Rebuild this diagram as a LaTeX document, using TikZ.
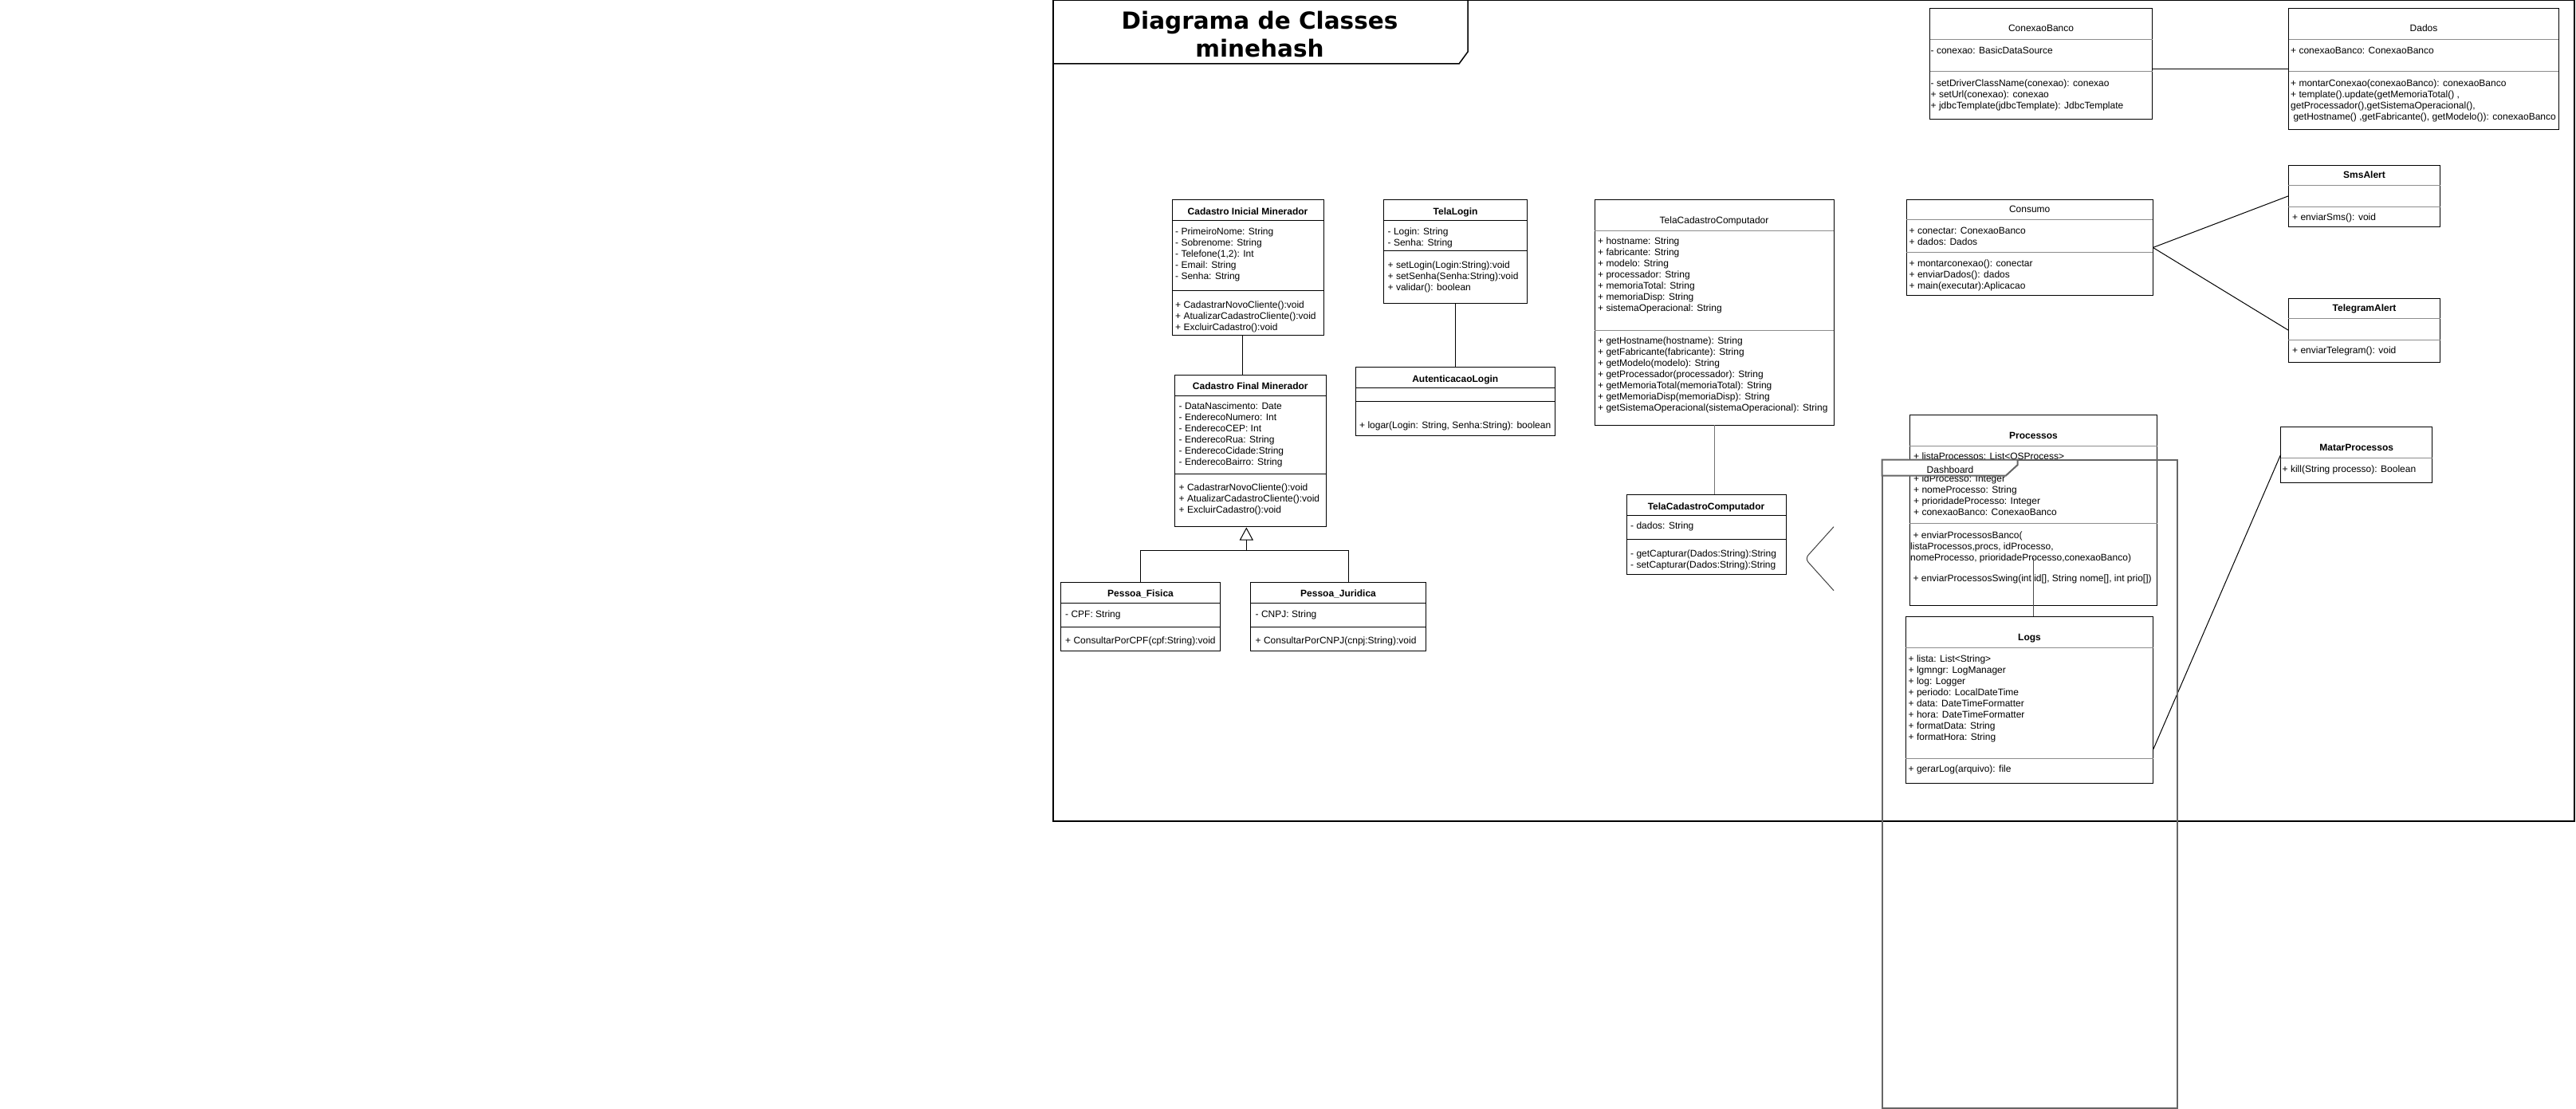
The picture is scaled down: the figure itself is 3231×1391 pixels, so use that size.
\documentclass[tikz,border=0pt]{standalone}
\usepackage{fontspec}
\setmainfont{Liberation Sans}
\newfontfamily\titlefont{DejaVu Sans}
\usetikzlibrary{arrows.meta,calc,positioning}
\tikzset{
	cls/.style={draw,fill=white,line width=1pt,inner sep=0pt,outer sep=0pt,anchor=north west},
	sepk/.style={line width=1pt,color=black},
	sepg/.style={line width=1pt,color=black!45},
	cname/.style={anchor=base,inner sep=0pt,font=\bfseries\fontsize{12}{14}\selectfont},
	cnamer/.style={anchor=base,inner sep=0pt,font=\fontsize{12}{14}\selectfont},
	rowtxt/.style={anchor=base west,inner sep=0pt,font=\fontsize{12}{14}\selectfont},
	ftitle/.style={anchor=base,inner sep=0pt,font=\titlefont\bfseries\fontsize{29.5}{35}\selectfont},
	outframe/.style={line width=1.5pt,color=black},
	dashframe/.style={line width=2pt,color=black!60},
	assoc/.style={line width=1pt,color=black},
	grayassoc/.style={line width=1pt,color=black!55},
	genedge/.style={line width=1pt,color=black,-{Triangle[open,length=16pt,width=17pt]}}
}
% class box: name, left, top, right, bottom, first separator, second separator, separator style
\newcommand{\classbox}[8]{%
	\node[cls,minimum width={#4-#2},minimum height={#5-#3}] (#1) at (#2,#3) {};
	\draw[#8] (#2,#6) -- (#4,#6);
	\draw[#8] (#2,#7) -- (#4,#7);
}
\begin{document}
\begin{tikzpicture}[x=1pt,y=-1pt]
		\useasboundingbox (0,0) rectangle (3231,1391);
		%%%frame
		\draw[outframe] (1321,0.75) rectangle (3229,1030);
		\draw[outframe] (1321,80) -- (1830,80) -- (1841,65) -- (1841,0.75);
		\node[ftitle] (ft1) at (1580,37) {Diagrama de Classes};
		\node[ftitle] (ft2) at (1580,71.5) {minehash};
		%%%Cadastro Inicial
		\classbox{cim}{1470}{250}{1660}{420}{276}{364}{sepk}
		\node[cname] (cimN) at (1565,269.3) {Cadastro Inicial Minerador};
		\foreach \rowtext [count=\k from 0] in {- PrimeiroNome: String,- Sobrenome: String,{- Telefone(1,2): Int},- Email: String,- Senha: String}
			\node[rowtxt] (cimA\k) at (1474,{294+14*\k}) {\rowtext};
		\foreach \rowtext [count=\k from 0] in {+ CadastrarNovoCliente():void,+ AtualizarCadastroCliente():void,+ ExcluirCadastro():void}
			\node[rowtxt] (cimM\k) at (1474,{386+14*\k}) {\rowtext};
		%%%Cadastro Final
		\classbox{cfm}{1473.3}{470.7}{1663.3}{660}{496.7}{594}{sepk}
		\node[cname] (cfmN) at (1568.3,488.6) {Cadastro Final Minerador};
		\foreach \rowtext [count=\k from 0] in {- DataNascimento: Date,- EnderecoNumero: Int,- EnderecoCEP: Int,- EnderecoRua: String,- EnderecoCidade:String,- EnderecoBairro: String}
			\node[rowtxt] (cfmA\k) at (1478.5,{513.7+14*\k}) {\rowtext};
		\foreach \rowtext [count=\k from 0] in {+ CadastrarNovoCliente():void,+ AtualizarCadastroCliente():void,+ ExcluirCadastro():void}
			\node[rowtxt] (cfmM\k) at (1478.5,{615.7+14*\k}) {\rowtext};
		\coordinate (cimB) at ([xshift=-6.5pt]cim.south);
		\draw[assoc] (cimB) -- (cimB |- cfm.north);
		%%%Pessoas
		\classbox{pf}{1330.7}{730.7}{1530.3}{816.7}{756}{786.7}{sepk}
		\node[cname] (pfN) at (1430.5,748.6) {Pessoa\_Fisica};
		\node[rowtxt] (pfA) at (1336,774) {- CPF: String};
		\node[rowtxt] (pfM) at (1336,807.3) {+ ConsultarPorCPF(cpf:String):void};
		\classbox{pj}{1568.7}{730.7}{1788.3}{816.7}{756}{786.7}{sepk}
		\node[cname] (pjN) at (1678.5,748.6) {Pessoa\_Juridica};
		\node[rowtxt] (pjA) at (1574.5,774) {- CNPJ: String};
		\node[rowtxt] (pjM) at (1574.5,807.3) {+ ConsultarPorCNPJ(cnpj:String):void};
		\coordinate (cfmA) at ([xshift=-5pt,yshift=-1.5pt]cfm.south);
		\coordinate (gj) at (1563.3,690);
		\coordinate (pjT) at ([xshift=12.5pt]pj.north);
		\draw[assoc] (pf.north) |- (pjT |- gj) -- (pjT);
		\draw[genedge] (gj) -- (cfmA);
		%%%Login
		\classbox{tl}{1735.6}{250}{1915.4}{380}{276}{314}{sepk}
		\node[cname] (tlN) at (1825.5,269.3) {TelaLogin};
		\foreach \rowtext [count=\k from 0] in {- Login: String,- Senha: String}
			\node[rowtxt] (tlA\k) at (1740.5,{294+14*\k}) {\rowtext};
		\foreach \rowtext [count=\k from 0] in {+ setLogin(Login:String):void,+ setSenha(Senha:String):void,+ validar(): boolean}
			\node[rowtxt] (tlM\k) at (1740.5,{336+14*\k}) {\rowtext};
		\classbox{al}{1700}{460}{1950.6}{546}{486.5}{503}{sepk}
		\node[cname] (alN) at (1825.3,479) {AutenticacaoLogin};
		\node[rowtxt] (alM) at (1705,537) {+ logar(Login: String, Senha:String): boolean};
		\draw[assoc] (tl.south) -- (tl.south |- al.north);
		%%%Computador
		\classbox{tcc}{2000.4}{250.7}{2300}{533}{289}{414}{sepg}
		\node[cnamer] (tccN) at (2150,280) {TelaCadastroComputador};
		\foreach \rowtext [count=\k from 0] in {+ hostname: String,+ fabricante: String,+ modelo: String,+ processador: String,+ memoriaTotal: String,+ memoriaDisp: String,+ sistemaOperacional: String}
			\node[rowtxt] (tccA\k) at (2004,{306.7+14*\k}) {\rowtext};
		\foreach \rowtext [count=\k from 0] in {+ getHostname(hostname): String,+ getFabricante(fabricante): String,+ getModelo(modelo): String,+ getProcessador(processador): String,+ getMemoriaTotal(memoriaTotal): String,+ getMemoriaDisp(memoriaDisp): String,+ getSistemaOperacional(sistemaOperacional): String}
			\node[rowtxt] (tccM\k) at (2004,{431.7+14*\k}) {\rowtext};
		\classbox{tcs}{2040}{620}{2240}{720}{646.7}{676}{sepk}
		\node[cname] (tcsN) at (2140,639.3) {TelaCadastroComputador};
		\node[rowtxt] (tcsA) at (2045,663.3) {- dados: String};
		\foreach \rowtext [count=\k from 0] in {- getCapturar(Dados:String):String,- setCapturar(Dados:String):String}
			\node[rowtxt] (tcsM\k) at (2045,{698+14*\k}) {\rowtext};
		\draw[grayassoc] (tcc.south) -- (tcc.south |- tcs.north);
		\draw[line width=1pt,color=black!75,rounded corners=6pt] (2300,660.7) -- (2264,700.7) -- (2300,740.7);
		%%%Banco
		\classbox{cnx}{2420.7}{10.7}{2699.8}{150}{50}{90}{sepg}
		\node[cnamer] (cnxN) at (2560,40) {ConexaoBanco};
		\node[rowtxt] (cnxA) at (2421.5,67.3) {- conexao: BasicDataSource};
		\foreach \rowtext [count=\k from 0] in {- setDriverClassName(conexao): conexao,+ setUrl(conexao): conexao,+ jdbcTemplate(jdbcTemplate): JdbcTemplate}
			\node[rowtxt] (cnxM\k) at (2421.5,{108.3+14*\k}) {\rowtext};
		\classbox{dad}{2870.5}{10.7}{3209.3}{162.3}{50}{90}{sepg}
		\node[cnamer] (dadN) at (3040,40) {Dados};
		\node[rowtxt] (dadA) at (2873,67.3) {+ conexaoBanco: ConexaoBanco};
		\foreach \rowtext [count=\k from 0] in {+ montarConexao(conexaoBanco): conexaoBanco,{+ template().update(getMemoriaTotal() ,},{getProcessador(),getSistemaOperacional(),},{\ getHostname() ,getFabricante(), getModelo()): conexaoBanco}}
			\node[rowtxt] (dadM\k) at (2873,{108.3+14*\k}) {\rowtext};
		\draw[assoc] (cnx.east |- dad.west) -- (dad.west);
		%%%Consumo
		\classbox{con}{2391}{250.7}{2700.4}{370.3}{275.3}{316.3}{sepg}
		\node[cnamer] (conN) at (2545.7,266) {Consumo};
		\foreach \rowtext [count=\k from 0] in {+ conectar: ConexaoBanco,+ dados: Dados}
			\node[rowtxt] (conA\k) at (2394.5,{293+14*\k}) {\rowtext};
		\foreach \rowtext [count=\k from 0] in {+ montarconexao(): conectar,+ enviarDados(): dados,+ main(executar):Aplicacao}
			\node[rowtxt] (conM\k) at (2394.5,{334+14*\k}) {\rowtext};
		\classbox{sms}{2870.4}{207.3}{3060.6}{284.3}{232.3}{259.3}{sepg}
		\node[cname] (smsN) at (2965.5,223.3) {SmsAlert};
		\node[rowtxt] (smsM) at (2875,276.7) {+ enviarSms(): void};
		\classbox{tga}{2870.4}{374.3}{3060.6}{454.3}{399.3}{426.3}{sepg}
		\node[cname] (tgaN) at (2965.5,390) {TelegramAlert};
		\node[rowtxt] (tgaM) at (2875,443.7) {+ enviarTelegram(): void};
		\draw[assoc] (con.east) -- (sms.west);
		\draw[assoc] (con.east) -- (tga.west);
		%%%Processos
		\classbox{prc}{2395.3}{520.7}{2705.7}{759.3}{559.3}{656}{sepg}
		\node[cname] (prcN) at (2550.5,550.3) {Processos};
		\node[rowtxt] (prcA) at (2400,576) {+ listaProcessos: List<OSProcess>};
		\foreach \rowtext [count=\k from 0] in {+ idProcesso: Integer,+ nomeProcesso: String,+ prioridadeProcesso: Integer,+ conexaoBanco: ConexaoBanco}
			\node[rowtxt] (prcA\k) at (2400,{604+14*\k}) {\rowtext};
		\foreach \rowtext [count=\k from 0] in {{\ + enviarProcessosBanco(},{listaProcessos,procs, idProcesso,},{nomeProcesso, prioridadeProcesso,conexaoBanco)}}
			\node[rowtxt] (prcM\k) at (2396,{675.3+14*\k}) {\rowtext};
		\node[rowtxt] (prcS) at (2396,729.3) {\ + enviarProcessosSwing(int id[], String nome[], int prio[])};
		\classbox{log}{2390.3}{773.3}{2700.7}{982.7}{812.3}{951.7}{sepg}
		\node[cname] (logN) at (2545.5,803.3) {Logs};
		\foreach \rowtext [count=\k from 0] in {+ lista: List<String>,+ lgmngr: LogManager,+ log: Logger,+ periodo: LocalDateTime,+ data: DateTimeFormatter,+ hora: DateTimeFormatter,+ formatData: String,+ formatHora: String}
			\node[rowtxt] (logA\k) at (2393.5,{830+14*\k}) {\rowtext};
		\node[rowtxt] (logM) at (2393.5,968.7) {+ gerarLog(arquivo): file};
		\coordinate (prcIn) at (2550.7,700);
		\draw[assoc,color=black!70] (prcIn) -- (prcIn |- log.north);
		\classbox{mtp}{2860.7}{535}{3050.7}{605.7}{574}{574}{sepg}
		\node[cname] (mtpN) at (2955.7,565.3) {MatarProcessos};
		\node[rowtxt] (mtpM) at (2862.5,592.3) {+ kill(String processo): Boolean};
		\draw[assoc] ($(log.south east)+(0,-42.7)$) -- ($(mtp.north west)+(0,35)$);
		%%%Dashboard
		\draw[dashframe] (2360.7,576.7) rectangle (2730.7,1390);
		\draw[dashframe,fill=white] (2360.7,576.7) -- (2530.7,576.7) -- (2530.7,583) -- (2515.7,596.7) -- (2360.7,596.7) -- cycle;
		\node[cnamer] (dsh) at (2446,593) {Dashboard};
	\end{tikzpicture}
\end{document}
